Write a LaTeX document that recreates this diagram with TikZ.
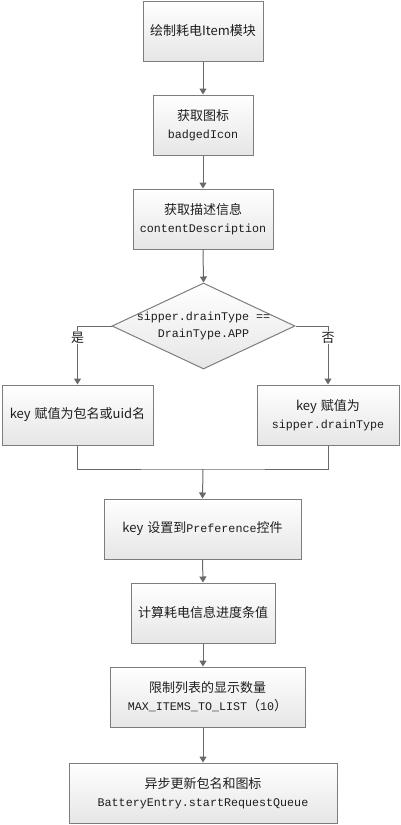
\documentclass[tikz,border=0pt]{standalone}
\usepackage{fontspec}
\setmainfont{Noto Sans CJK SC}
\newfontfamily\codefont{Liberation Mono}
\usetikzlibrary{shapes.geometric,arrows.meta}
\definecolor{edgegray}{RGB}{125,125,125}
\definecolor{linegray}{RGB}{105,105,105}
\definecolor{shadegray}{RGB}{230,230,230}
\definecolor{txt}{RGB}{30,30,30}
\newcommand\cd[1]{{\codefont\fontsize{11.7}{18}\selectfont #1}}
\newcommand\kgap{\hspace{4pt}}
\begin{document}
\begin{tikzpicture}[x=1pt,y=-1pt,
  box/.style={draw=edgegray, line width=1pt, top color=white, bottom color=shadegray,
    align=center, inner sep=0pt, minimum height=60pt, text=txt,
    font=\fontsize{13}{18}\selectfont},
  decision/.style={diamond, draw=edgegray, line width=1pt, top color=white, bottom color=shadegray,
    inner sep=0pt, minimum width=183pt, minimum height=86pt},
  arr/.style={draw=linegray, line width=1pt, -{Triangle[width=7pt,length=6pt]}},
  conn/.style={draw=linegray, line width=1pt},
  lbl/.style={fill=white, inner sep=1pt, text=txt, font=\fontsize{13}{18}\selectfont}]
\useasboundingbox (0,0) rectangle (400,825);
\fill[white] (0,0) rectangle (400,825);

\node[box, minimum width=120pt] (b1) at (203,31) {绘制耗电Item模块};
\node[box, minimum width=100pt] (b2) at (203,125) {获取图标\\\cd{badgedIcon}};
\node[box, minimum width=140pt] (b3) at (203,219) {获取描述信息\\\cd{contentDescription}};
\node[decision] (d) at (203.5,326) {};
\node[align=center, inner sep=0pt, text=txt, font=\fontsize{13}{17}\selectfont] (dt) at (d.center) {\cd{sipper.drainType ==}\\\cd{DrainType.APP}};
\node[box, minimum width=151pt] (bl) at (77.5,415) {key\kgap 赋值为包名或uid名};
\node[box, minimum width=142pt] (br) at (328,415) {key\kgap 赋值为\\\cd{sipper.drainType}};
\node[box, minimum width=197pt] (b5) at (202.5,529) {key\kgap 设置到\cd{Preference}控件};
\node[box, minimum width=144pt] (b6) at (203,613) {计算耗电信息进度条值};
\node[box, minimum width=195pt] (b7) at (207.5,697) {限制列表的显示数量\\\cd{MAX\_ITEMS\_TO\_LIST}（\cd{10}）};
\node[box, minimum width=268pt] (b8) at (203,793) {异步更新包名和图标\\\cd{BatteryEntry.startRequestQueue}};
\coordinate (m) at (203,469);

\draw[arr] (b1.south) -- (b2.north);
\draw[arr] (b2.south) -- (b3.north);
\draw[arr] (b3.south) -- (d.north);
\draw[arr] (d.west) -| node[lbl, pos=0.6] {是} (bl.north);
\draw[arr] (d.east) -| node[lbl, pos=0.6] {否} (br.north);
\draw[conn] (bl.south) |- (m) -| (br.south);
\draw[arr] (m) -- (b5.north);
\draw[arr] (b5.south) -- (b6.north);
\draw[arr] (b6.south) -- (b6.south |- b7.north);
\draw[arr] (b7.south -| b8.north) -- (b8.north);
\end{tikzpicture}
\end{document}
